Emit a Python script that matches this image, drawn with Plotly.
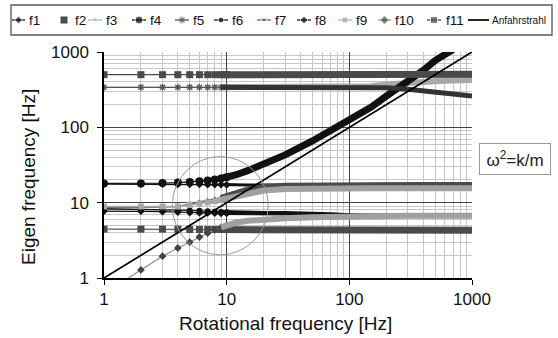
import plotly.graph_objects as go

# ---------------- data ----------------
rot_freq = [1, 2, 3, 4, 5, 6, 7, 8, 9, 10, 12, 15, 20, 30, 50, 70, 100, 150, 200, 300,
            400, 500, 600, 700, 800, 900, 1000]

f1 = [17.6, 17.6, 17.6, 17.5, 17.5, 17.5, 17.4, 17.4, 17.4, 17.3, 17.3, 17.2, 17.1, 17.0,
      17.0, 16.9, 16.9, 16.9, 16.8, 16.8, 16.8, 16.8, 16.8, 16.8, 16.8, 16.8, 16.8]
f2 = [4.45, 4.45, 4.45, 4.45, 4.4, 4.4, 4.4, 4.4, 4.4, 4.4, 4.4, 4.35, 4.35, 4.3,
      4.3, 4.3, 4.3, 4.3, 4.3, 4.3, 4.3, 4.3, 4.3, 4.3, 4.3, 4.3, 4.3]
f3 = [340, 340, 340, 340, 340, 340, 340, 340, 340, 340, 340, 340, 340, 340,
      340, 340, 340, 350, 370, 395, 405, 410, 415, 418, 420, 423, 425]
f4 = [18, 18, 18.2, 18.5, 18.8, 19.2, 19.7, 20.3, 21, 21.8, 23.5, 26.8, 32, 43,
      66, 90, 125, 185, 260, 400, 570, 770, 930, 1080, None, None, None]
f5 = [340, 340, 340, 340, 340, 340, 340, 340, 340, 340, 340, 340, 340, 340,
      340, 340, 340, 340, 335, 320, 305, 295, 285, 278, 272, 266, 260]
f6 = [8.3, 8.2, 8.1, 8.0, 7.9, 7.8, 7.7, 7.6, 7.5, 7.45, 7.4, 7.35, 7.3, 7.3,
      7.25, 7.0, 6.8, 6.75, 6.7, 6.7, 6.7, 6.7, 6.7, 6.7, 6.7, 6.7, 6.7]
f7 = [8.6, 8.6, 8.7, 8.9, 9.6, 10.1, 10.6, 11.1, 11.6, 12.1, 13.4, 15.0, 16.2, 16.8,
      17.0, 17.1, 17.1, 17.1, 17.1, 17.1, 17.1, 17.1, 17.1, 17.1, 17.1, 17.1, 17.1]
f8 = [7.7, 7.7, 7.6, 7.5, 7.4, 7.35, 7.3, 7.25, 7.2, 7.2, 7.15, 7.1, 7.1, 7.05,
      7.0, 6.9, 6.8, 6.75, 6.7, 6.7, 6.7, 6.7, 6.7, 6.7, 6.7, 6.7, 6.7]
f9 = [8.9, 8.9, 8.9, 8.9, 9.3, 9.7, 10.1, 10.5, 10.9, 11.3, 12.2, 13.4, 14.5, 15.2,
      15.5, 15.5, 15.5, 15.5, 15.5, 15.5, 15.5, 15.5, 15.5, 15.5, 15.5, 15.5, 15.5]
f10 = [0.62, 1.28, 1.95, 2.5, 3.0, 3.5, 3.95, 4.35, 4.7, 5.0, 5.45, 5.75, 6.0, 6.2,
       6.4, 6.5, 6.6, 6.7, 6.7, 6.7, 6.7, 6.7, 6.7, 6.7, 6.7, 6.7, 6.7]
f11 = [500, 500, 500, 500, 500, 500, 500, 500, 500, 500, 500, 500, 500, 500,
       500, 500, 500, 500, 500, 500, 500, 505, 505, 505, 505, 505, 505]

anfahr_x = [1, 1000]
anfahr_y = [1, 1000]

tick_vals = [1, 10, 100, 1000]
tick_text = ["1", "10", "100", "1000"]
minor_vals = [2, 3, 4, 5, 6, 7, 8, 9, 20, 30, 40, 50, 60, 70, 80, 90,
              200, 300, 400, 500, 600, 700, 800, 900, 1000]

series_names = ["f1", "f2", "f3", "f4", "f5", "f6", "f7", "f8", "f9", "f10", "f11"]
series_values = [f1, f2, f3, f4, f5, f6, f7, f8, f9, f10, f11]

# ---------------- styles ----------------
FONT = "Liberation Sans, Arial, sans-serif"
styles = {
    "f1":  dict(mc="#111111", lc="#111111", sym="diamond", size=6, band=3, bc="#111111"),
    "f2":  dict(mc="#4a4a4a", lc="#5a5a5a", sym="square", size=7, band=7, bc="#4a4a4a"),
    "f3":  dict(mc="#b4b4b4", lc="#b4b4b4", sym="triangle-up", size=6, band=6, bc="#a8a8a8"),
    "f4":  dict(mc="#111111", lc="#111111", sym="circle", size=8, band=7, bc="#111111"),
    "f5":  dict(mc="#555555", lc="#555555", sym="asterisk-open", size=6, band=5, bc="#333333"),
    "f6":  dict(mc="#111111", lc="#111111", sym="circle", size=6, band=4, bc="#111111"),
    "f7":  dict(mc="#666666", lc="#666666", sym="triangle-up", size=6, band=6, bc="#4a4a4a"),
    "f8":  dict(mc="#111111", lc="#111111", sym="diamond", size=6, band=3, bc="#111111"),
    "f9":  dict(mc="#a8a8a8", lc="#a8a8a8", sym="square", size=6, band=6, bc="#a0a0a0"),
    "f10": dict(mc="#444444", lc="#999999", sym="diamond", size=6, band=6, bc="#a0a0a0"),
    "f11": dict(mc="#4a4a4a", lc="#4a4a4a", sym="square", size=7, band=7, bc="#4a4a4a"),
}
BAND_FROM = 8   # index where dense markers merge into a band
SPARSE_TO = 10

fig = go.Figure()

for name, vals in zip(series_names, series_values):
    st = styles[name]
    marker = dict(symbol=st["sym"], size=st["size"], color=st["mc"])
    if st["sym"].endswith("open"):
        marker["line"] = dict(color=st["mc"], width=1.2)
    fig.add_trace(go.Scatter(
        x=rot_freq[:SPARSE_TO], y=vals[:SPARSE_TO], mode="lines+markers", name=name,
        line=dict(color=st["lc"], width=1.3), marker=marker, showlegend=False))
    fig.add_trace(go.Scatter(
        x=rot_freq[BAND_FROM:], y=vals[BAND_FROM:], mode="lines", name=name,
        line=dict(color=st["bc"], width=st["band"]), showlegend=False))

fig.add_trace(go.Scatter(x=anfahr_x, y=anfahr_y, mode="lines", name="Anfahrstrahl",
                         line=dict(color="#000000", width=1.7), showlegend=False))

# ---------------- custom one-row legend (pixel layout on helper axes) ----------------
legend_glyph = [(12, 25), (64, 64), (88, 102), (132, 146), (175, 189), (214, 228),
                (257, 271), (297, 311), (338, 352), (378, 391), (427, 441)]
legend_text_x = [27, 73, 104, 148, 191, 230, 273, 313, 354, 393, 444]
LEG_Y = 20
for name, (gx0, gx1), tx in zip(series_names, legend_glyph, legend_text_x):
    st = styles[name]
    marker = dict(symbol=st["sym"], size=[0, st["size"], 0], color=st["mc"])
    if st["sym"].endswith("open"):
        marker["line"] = dict(color=st["mc"], width=1.2)
    if gx0 == gx1:
        fig.add_trace(go.Scatter(x=[gx0], y=[LEG_Y], mode="markers", xaxis="x2", yaxis="y2",
                                 marker=dict(symbol=st["sym"], size=st["size"], color=st["mc"]),
                                 showlegend=False, hoverinfo="skip"))
    else:
        fig.add_trace(go.Scatter(x=[gx0, (gx0 + gx1) / 2, gx1], y=[LEG_Y] * 3,
                                 mode="lines+markers", xaxis="x2", yaxis="y2",
                                 line=dict(color=st["lc"], width=1.3), marker=marker,
                                 showlegend=False, hoverinfo="skip"))
    fig.add_annotation(x=tx, y=LEG_Y, xref="x2", yref="y2", text=name, showarrow=False,
                       xanchor="left", yanchor="middle",
                       font=dict(family=FONT, size=13.5, color="#111"))
fig.add_trace(go.Scatter(x=[468, 489], y=[LEG_Y, LEG_Y], mode="lines", xaxis="x2", yaxis="y2",
                         line=dict(color="#000", width=1.7), showlegend=False, hoverinfo="skip"))
fig.add_annotation(x=490, y=LEG_Y, xref="x2", yref="y2", text="Anfahrstrahl", showarrow=False,
                   xanchor="left", yanchor="middle", font=dict(family=FONT, size=10, color="#111"))
fig.add_shape(type="rect", xref="x2", yref="y2", x0=11, x1=552, y0=5, y1=35,
              line=dict(color="#555", width=1.3))

# omega box
fig.add_annotation(x=515, y=159, xref="x2", yref="y2", text="ω<sup>2</sup>=k/m",
                   showarrow=False, font=dict(family=FONT, size=17, color="#222"),
                   bordercolor="#999", borderwidth=1, borderpad=2, width=66, height=26,
                   bgcolor="white")

# axis titles
fig.add_annotation(x=285, y=323, xref="x2", yref="y2", text="Rotational frequency [Hz]",
                   showarrow=False, font=dict(family=FONT, size=19, color="#111"))
fig.add_annotation(x=28, y=177, xref="x2", yref="y2", text="Eigen frequency [Hz]",
                   showarrow=False, textangle=-90, font=dict(family=FONT, size=19, color="#111"))

# highlight ellipse
fig.add_shape(type="circle", xref="x", yref="y", x0=3.6, x1=21.8, y0=2.03, y1=41,
              line=dict(color="#999", width=1))

W, H = 558, 338
axis_common = dict(
    type="log", tickvals=tick_vals, ticktext=tick_text, showgrid=True, gridcolor="#444",
    gridwidth=1, showline=True, linecolor="#000", linewidth=1.5, ticks="outside",
    ticklen=5, tickcolor="#000", tickfont=dict(family=FONT, size=17, color="#111"),
    minor=dict(tickvals=minor_vals, showgrid=True, gridcolor="#c6c6c6", gridwidth=1,
               ticks=""),
    zeroline=False, automargin=False, fixedrange=True, range=[0, 3],
)
fig.update_layout(
    template="none", width=W, height=H,
    margin=dict(l=0, r=0, t=0, b=0),
    paper_bgcolor="white", plot_bgcolor="rgba(0,0,0,0)", showlegend=False,
    xaxis=dict(domain=[104 / W, 472 / W], anchor="y", **axis_common),
    yaxis=dict(domain=[(H - 278) / H, (H - 52) / H], anchor="x", ticklabelstandoff=5,
               **axis_common),
    xaxis2=dict(domain=[0, 1], range=[0, W], visible=False, anchor="y2", fixedrange=True),
    yaxis2=dict(domain=[0, 1], range=[H, 0], visible=False, anchor="x2", fixedrange=True),
)

fig.write_html("out.html", config={"displayModeBar": False},
               post_script="document.body.style.margin='0';")
